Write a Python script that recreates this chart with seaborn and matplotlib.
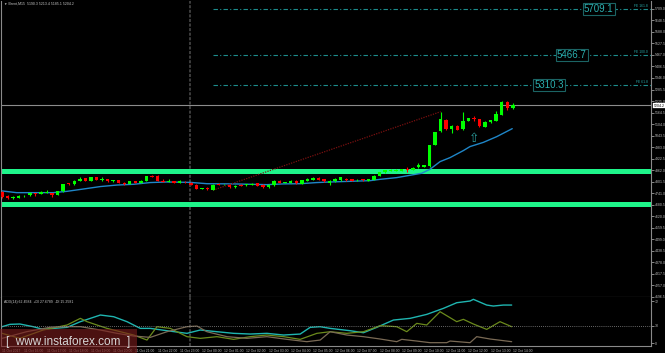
import numpy as np
import pandas as pd
import matplotlib
matplotlib.use("Agg")
import matplotlib.pyplot as plt
import matplotlib.transforms as mtransforms
from matplotlib.patches import Rectangle
import seaborn as sns

# ---------------- data ----------------
opens = [4749, 4728, 4716, 4718, 4726, 4732, 4740, 4739, 4744, 4740,
         4733, 4752, 4793, 4788, 4805, 4819, 4807, 4824, 4809, 4814,
         4806, 4809, 4796, 4789, 4803, 4795, 4805, 4833, 4831, 4805,
         4802, 4803, 4796, 4802, 4795, 4786, 4765, 4770, 4760, 4789,
         4787, 4784, 4772, 4786, 4783, 4786, 4793, 4784, 4772, 4782,
         4805, 4795, 4795, 4805, 4790, 4807, 4812, 4823, 4814, 4793,
         4805, 4810, 4814, 4814, 4809, 4814, 4807, 4810, 4833, 4851,
         4858, 4859, 4860, 4870, 4863, 4877, 4881, 4884, 4994, 5068,
         5126, 5078, 5094, 5076, 5122, 5136, 5129, 5090, 5113, 5122,
         5154, 5222, 5187]
highs = [4754, 4732, 4726, 4733, 4731, 4747, 4743, 4751, 4758, 4744,
         4755, 4791, 4796, 4808, 4828, 4823, 4828, 4828, 4828, 4817,
         4810, 4812, 4799, 4805, 4806, 4808, 4834, 4837, 4835, 4816,
         4816, 4806, 4808, 4805, 4798, 4789, 4770, 4775, 4788, 4797,
         4791, 4787, 4784, 4789, 4790, 4795, 4797, 4788, 4787, 4808,
         4808, 4801, 4808, 4808, 4811, 4820, 4827, 4826, 4817, 4808,
         4819, 4828, 4819, 4817, 4814, 4818, 4817, 4836, 4852, 4865,
         4866, 4866, 4869, 4877, 4878, 4898, 4890, 4996, 5063, 5169,
         5130, 5098, 5098, 5166, 5137, 5147, 5133, 5120, 5128, 5175,
         5224, 5225, 5213]
lows = [4718, 4712, 4712, 4714, 4721, 4728, 4728, 4735, 4740, 4723,
        4730, 4750, 4785, 4786, 4803, 4803, 4805, 4808, 4806, 4800,
        4802, 4794, 4786, 4787, 4793, 4793, 4803, 4826, 4803, 4800,
        4798, 4793, 4794, 4796, 4784, 4763, 4762, 4758, 4757, 4782,
        4784, 4770, 4768, 4779, 4780, 4784, 4779, 4768, 4766, 4780,
        4793, 4793, 4793, 4791, 4788, 4805, 4810, 4810, 4801, 4782,
        4802, 4807, 4805, 4805, 4805, 4805, 4805, 4808, 4831, 4849,
        4856, 4856, 4858, 4854, 4861, 4875, 4879, 4881, 4992, 5065,
        5075, 5055, 5072, 5074, 5119, 5122, 5089, 5087, 5110, 5120,
        5152, 5178, 5185]
closes = [4723, 4714, 4723, 4728, 4728, 4744, 4737, 4747, 4745, 4733,
          4752, 4788, 4788, 4805, 4816, 4805, 4824, 4810, 4816, 4803,
          4807, 4796, 4788, 4803, 4795, 4805, 4831, 4828, 4805, 4802,
          4805, 4796, 4805, 4798, 4786, 4765, 4768, 4761, 4786, 4784,
          4788, 4772, 4781, 4781, 4787, 4791, 4781, 4772, 4784, 4805,
          4795, 4800, 4805, 4793, 4809, 4816, 4823, 4812, 4803, 4805,
          4816, 4824, 4809, 4807, 4810, 4809, 4814, 4833, 4851, 4863,
          4862, 4863, 4866, 4863, 4875, 4888, 4888, 4994, 5061, 5129,
          5078, 5096, 5075, 5122, 5134, 5131, 5094, 5117, 5125, 5155,
          5222, 5190, 5204.2]

ma_idx = [0, 2.6, 9.2, 11.7, 14.6, 17.7, 20.7, 23.7, 26.7, 29.7, 33.9, 36.9,
          41.7, 47.7, 50.7, 53.7, 56.7, 59.1, 66.3, 68.1, 71.1, 75.6, 77.1,
          78.9, 80.7, 83.1, 84.3, 86.7, 89.1, 91.9]
ma_val = [4753, 4744, 4744, 4751, 4763, 4776, 4784, 4788, 4797, 4800, 4798, 4791,
          4790, 4786, 4790, 4791, 4797, 4800, 4807, 4814, 4823, 4846, 4867,
          4907, 4928, 4965, 4986, 5008, 5038, 5080]

adx_idx = [0, 1.4, 3.2, 5.6, 7.4, 9.3, 11.7, 14.1, 17.7, 20.1, 22.5, 24.9, 26.7,
           29.7, 33.3, 35.7, 38.7, 41.7, 44.7, 47.7, 50.7, 53.7, 55.5, 57.3, 59.1,
           62.7, 65.1, 67.5, 70.5, 73.5, 76.5, 79.5, 81.9, 84.3, 84.9, 87.3, 88.5,
           90.3, 91.8]
adx_val = [28, 32, 32.6, 28, 23.4, 25.1, 26.9, 36.6, 48, 45.1, 36.6, 25.1, 25.1,
           21.1, 16.6, 22.3, 19.4, 16.6, 15.4, 16.6, 13.7, 15.4, 26.9, 28, 25.1,
           21.1, 17.7, 26.9, 39.4, 42.3, 49.1, 59.4, 69.1, 72, 74.9, 65.1, 63.4,
           65.1, 65.1]
pdi_idx = [0, 3.2, 7.4, 11.7, 14.1, 15.3, 18.9, 23.7, 26.1, 27.9, 30.3, 33.3,
           35.7, 38.7, 41.7, 44.7, 47.7, 50.7, 53.7, 56.7, 59.1, 62.1, 65.1, 68.1,
           71.1, 72.9, 74.7, 76.5, 78.9, 81.9, 83.1, 84.9, 87.3, 89.7, 91.8]
pdi_val = [16.6, 8, 22.3, 30.9, 42.3, 36.6, 25.1, 13.7, 5.1, 28, 25.1, 10.9,
           8, 10.9, 6.3, 10.9, 13.7, 10.9, 6.3, 16.6, 19.4, 16.6, 19.4, 29.7,
           28, 19.4, 33.7, 30.9, 53.7, 36.6, 40.6, 32.6, 23.4, 36.6, 28]
mdi_idx = [0, 4.4, 8.6, 11.7, 14.1, 17.7, 20.7, 23.7, 26.7, 29.7, 33.3, 35.1,
           36.9, 40.5, 44.1, 47.7, 51.3, 54.9, 57.3, 59.1, 62.1, 65.1, 68.1, 71.1,
           72.0, 74.7, 77.1, 80.1, 80.7, 84.3, 85.5, 87.9, 91.8]
mdi_val = [8, 19.4, 26.9, 28, 28, 22.3, 16.6, 12, 9.7, 19.4, 28, 29.1,
           19.4, 10.9, 8, 10.9, 6.3, 2.3, 5.1, 19.4, 13.7, 10.9, 6.9, 2.3,
           6.3, 3.4, 0.6, 0.6, 3.4, 0.6, 10.9, 6.9, 2.3]

support_levels = [4857.7, 4684.5]
fib_levels = [5709.1, 5466.7, 5310.3]
fib_names = ["FE 161.8", "FE 100.0", "FE 61.8"]
fib_label_idx = [107.5, 102.6, 98.5]
fib_start_idx = 38
trend_idx = [38, 79]
trend_val = [4757, 5169]
arrow_idx = 85
arrow_val = 5030
separator_idx = 33.85
adx_level = 30

time_labels = ["11 Oct 2017", "11 Oct 16:00", "11 Oct 17:00", "11 Oct 18:00",
               "11 Oct 19:00", "11 Oct 20:00", "11 Oct 21:00", "11 Oct 22:00",
               "11 Oct 23:00", "12 Oct 00:00", "12 Oct 01:00", "12 Oct 02:00",
               "12 Oct 03:00", "12 Oct 04:00", "12 Oct 05:00", "12 Oct 06:00",
               "12 Oct 07:00", "12 Oct 08:00", "12 Oct 09:00", "12 Oct 10:00",
               "12 Oct 11:00", "12 Oct 12:00", "12 Oct 13:00", "12 Oct 14:00"]
time_label_idx = [0, 4, 8, 12, 16, 20, 24, 28, 32, 36, 40, 44, 48, 52, 56, 60,
                  64, 68, 72, 76, 80, 84, 88, 92]
price_ticks = [4196.5, 4257.0, 4317.5, 4378.0, 4438.5, 4499.0, 4559.5, 4620.0,
               4680.5, 4741.0, 4801.5, 4862.0, 4922.5, 4983.0, 5043.5, 5104.0,
               5164.5, 5225.0, 5285.5, 5346.0, 5406.5, 5467.0, 5527.5, 5588.0,
               5648.5, 5709.0]
adx_ticks = [0, 30, 72]
header_text = "\u25BC Brent,M15  5190.3 5213.4 5185.1 5204.2"
adx_text = "ADX(14) 62.4584  +DI 27.6789  -DI 15.2581"

# ---------------- style ----------------
sns.set_style("dark", {"axes.facecolor": "black", "figure.facecolor": "black",
                       "axes.edgecolor": "#7a7a7a", "grid.color": "black"})
plt.rcParams['font.family'] = ['Liberation Sans', 'DejaVu Sans']

W, H = 665, 353
fig = plt.figure(figsize=(W / 100, H / 100), dpi=100)
fig.patch.set_facecolor("black")
ax = fig.add_axes([1 / W, 56 / H, 650 / W, 296 / H])
axs = fig.add_axes([1 / W, 7 / H, 650 / W, 49 / H])

xlim = (-0.2, 116.9)
TXT = "#bdbdbd"
SMALL = 2.5

# ---------------- main chart ----------------
df = pd.DataFrame({"i": np.arange(len(opens)), "o": opens, "h": highs,
                   "l": lows, "c": closes})
up = df["c"] >= df["o"]
cols = np.where(up, "#00ff00", "#ff0000")

for lv in support_levels:
    ax.axhline(lv, color="#1ef58a", lw=3.6, zorder=2)

ax.axhline(closes[-1], color="#8c8c8c", lw=0.8, zorder=1)

ax.vlines(df["i"], df["l"], df["h"], colors=cols, lw=0.8, zorder=4)
body_bottom = np.minimum(df["o"], df["c"])
body_h = np.maximum(np.abs(df["c"] - df["o"]), 3)
ax.bar(df["i"], body_h, bottom=body_bottom, width=0.62, color=cols,
       linewidth=0, zorder=5)

sns.lineplot(x=ma_idx, y=ma_val, ax=ax, color="#1f86c8", lw=1.0, zorder=3)

ax.plot(trend_idx, trend_val, color="#7a1010", ls=(0, (1, 1)), lw=0.9, zorder=3)

for lv, nm, li in zip(fib_levels, fib_names, fib_label_idx):
    ax.hlines(lv, fib_start_idx, xlim[1], color="#1d8c8c", lw=0.8,
              linestyles=[(0, (4, 2, 1, 2))], zorder=3)
    ax.text(xlim[1] - 0.6, lv + 4, nm, ha="right", va="bottom", fontsize=2.4,
            color="#2aa8a8", zorder=6)
    ax.text(li, lv, f"{lv:.1f}", ha="center", va="center", fontsize=7,
            color="#2bb0b0", zorder=6,
            bbox=dict(boxstyle="square,pad=0.12", fc="black", ec="#1b6464", lw=0.8))

ax.text(arrow_idx, arrow_val, "\u21E7", ha="center", va="center", fontsize=9,
        color="#2a9d9d", family="DejaVu Sans", zorder=6)

ax.axvline(separator_idx, color="#4d4d4d", ls=(0, (2, 1)), lw=1.1, zorder=1)

ax.set_xlim(*xlim)
ax.set_ylim(4196.2, 5750.2)
ax.yaxis.tick_right()
ax.set_yticks(price_ticks)
ax.set_yticklabels([f"{v:.1f}" for v in price_ticks])
ax.tick_params(axis="y", labelsize=SMALL, colors=TXT, length=2, width=0.5, pad=1)
ax.set_xticks([])
ax.set_xlabel("")
ax.set_ylabel("")
for s in ["left", "right", "bottom"]:
    ax.spines[s].set_color("#8a8a8a")
    ax.spines[s].set_linewidth(0.8)
ax.spines["top"].set_visible(False)
ax.grid(False)

blend = mtransforms.blended_transform_factory(ax.transAxes, ax.transData)
ax.text(1.004, closes[-1] - 3, f"{closes[-1]:.1f}", transform=blend, fontsize=SMALL,
        color="black", ha="left", va="center", zorder=7, clip_on=False,
        bbox=dict(boxstyle="square,pad=0.1", fc="white", ec="white", lw=0.2))

# ---------------- ADX sub chart ----------------
sns.lineplot(x=adx_idx, y=adx_val, ax=axs, color="#1fb5b0", lw=1.0)
sns.lineplot(x=pdi_idx, y=pdi_val, ax=axs, color="#6b8a1c", lw=0.9)
sns.lineplot(x=mdi_idx, y=mdi_val, ax=axs, color="#7a6a55", lw=0.9)
axs.axhline(adx_level, color="#8a8a8a", ls=(0, (1, 1.5)), lw=0.6)
axs.axvline(separator_idx, color="#4d4d4d", ls=(0, (2, 1)), lw=1.1, zorder=1)

axs.set_xlim(*xlim)
axs.set_ylim(-5.1, 78.9)
axs.yaxis.tick_right()
axs.set_yticks(adx_ticks)
axs.set_yticklabels([str(t) for t in adx_ticks])
axs.tick_params(axis="y", labelsize=SMALL, colors=TXT, length=2, width=0.5, pad=1)
axs.set_xticks(time_label_idx)
axs.set_xticklabels(time_labels)
axs.tick_params(axis="x", labelsize=2.4, colors=TXT, length=2, width=0.5, pad=0.5)
for lab in axs.get_xticklabels():
    lab.set_horizontalalignment("left")
axs.set_xlabel("")
axs.set_ylabel("")
for s in ["left", "right", "bottom"]:
    axs.spines[s].set_color("#8a8a8a")
    axs.spines[s].set_linewidth(0.8)
axs.spines["top"].set_visible(False)
axs.grid(False)

# ---------------- texts ----------------
fig.text(4 / W, 1 - 3.5 / H, header_text, fontsize=SMALL, color="#c8c8c8",
         va="center", ha="left")
fig.text(4 / W, 1 - 301.5 / H, adx_text, fontsize=SMALL, color="#c8c8c8",
         va="center", ha="left")

fig.patches.append(Rectangle((0, 0), 137 / W, 24 / H, transform=fig.transFigure,
                             fc="#7a1c1c", ec="none", alpha=0.62, zorder=10))
fig.text(68 / W, 11.5 / H, "[  www.instaforex.com  ]", fontsize=8.5,
         color="#d6d6d6", ha="center", va="center", zorder=11)

fig.savefig("out.png", dpi=100, facecolor="black")
